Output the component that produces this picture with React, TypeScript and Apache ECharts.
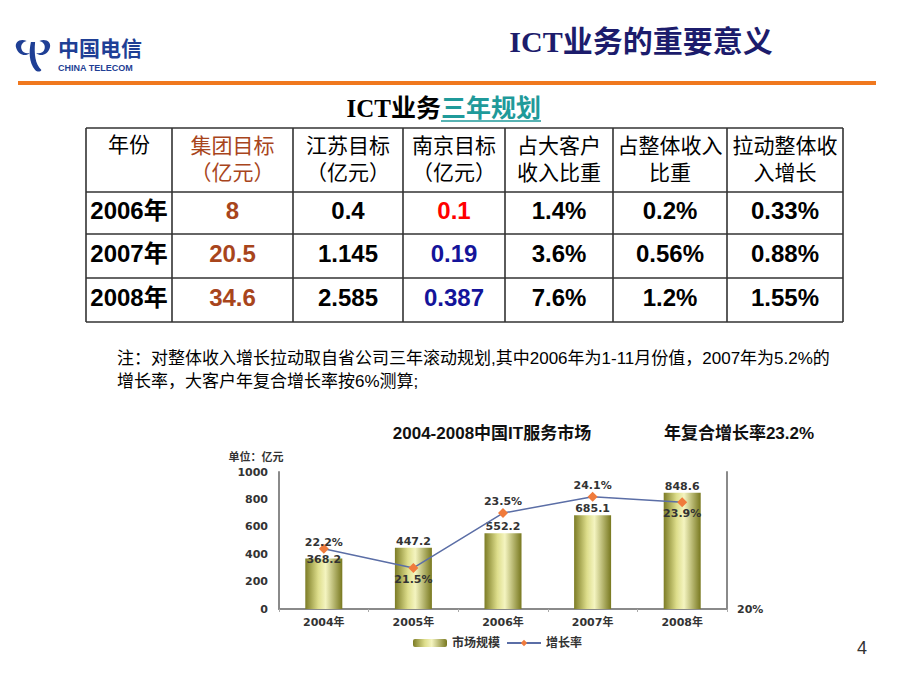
import React, { useEffect, useRef } from 'react';
import * as echarts from 'echarts';

// ---- table data ----
const tableHeaders: string[][] = [
  ['年份'],
  ['集团目标', '（亿元）'],
  ['江苏目标', '（亿元）'],
  ['南京目标', '（亿元）'],
  ['占大客户', '收入比重'],
  ['占整体收入', '比重'],
  ['拉动整体收', '入增长'],
];
const tableYears = ['2006年', '2007年', '2008年'];
const groupTarget = ['8', '20.5', '34.6'];
const jiangsuTarget = ['0.4', '1.145', '2.585'];
const nanjingTarget = ['0.1', '0.19', '0.387'];
const bigCustomerShare = ['1.4%', '3.6%', '7.6%'];
const totalRevenueShare = ['0.2%', '0.56%', '1.2%'];
const growthContribution = ['0.33%', '0.88%', '1.55%'];

// ---- chart data ----
const chartYears = ['2004年', '2005年', '2006年', '2007年', '2008年'];
const marketSize = [368.2, 447.2, 552.2, 685.1, 848.6];
const growthRate = [22.2, 21.5, 23.5, 24.1, 23.9];

const noteLines = [
  '注：对整体收入增长拉动取自省公司三年滚动规划,其中2006年为1-11月份值，2007年为5.2%的',
  '增长率，大客户年复合增长率按6%测算;',
];

const LOGO_D =
  'M4 14 C2 8 8 4 14 7 C10 8 8 11 9 15 C10 19 14 20 17 19 C13 23 6 21 4 14 Z ' +
  'M36 14 C38 8 32 4 26 7 C30 8 32 11 31 15 C30 19 26 20 23 19 C27 23 34 21 36 14 Z ' +
  'M18 8 C16 18 16 28 22 36 C24 38 27 38 28 36 C22 30 21 20 22 8 Z';

let logoRegistered = false;
function ensureLogo() {
  if (logoRegistered) return;
  echarts.graphic.registerShape('logo', echarts.graphic.extendPath(LOGO_D, {}) as any);
  logoRegistered = true;
}

const SERIF = '"Liberation Serif", "Noto Sans CJK SC", serif';
const SANS = '"Liberation Sans", "Noto Sans CJK SC", sans-serif';
const CHART_FONT = '"DejaVu Sans", "Noto Sans CJK SC", sans-serif';

function txt(text: string, x: number, y: number, o: any = {}) {
  const align = o.align || 'center';
  const valign = o.valign || 'middle';
  return {
    type: 'text',
    x,
    y,
    z: 10,
    style: {
      text,
      fill: o.fill || '#000',
      fontSize: o.size || 14,
      fontWeight: o.weight || 'normal',
      fontFamily: o.family || SANS,
      align,
      verticalAlign: valign,
      textAlign: align,
      textVerticalAlign: valign,
    },
  };
}

function buildGraphic() {
  const els: any[] = [];
  // logo
  els.push({
    type: 'logo',
    x: 12,
    y: 34,
    scaleX: 1.05,
    scaleY: 1.0,
    style: { fill: '#1f3f95' },
  });
  els.push(txt('中国电信', 58, 48, { align: 'left', size: 21, weight: 'bold', fill: '#1f3f95' }));
  els.push(txt('CHINA TELECOM', 58, 68, { align: 'left', size: 9, weight: 'bold', fill: '#1f3f95' }));
  // title
  els.push(txt('ICT业务的重要意义', 641, 41, { size: 30, weight: 'bold', fill: '#1c1c6c', family: SERIF }));
  // orange rule
  els.push({ type: 'rect', shape: { x: 18, y: 81, width: 858, height: 4 }, style: { fill: '#f0781e' } });

  // table title
  els.push(txt('ICT业务', 441, 108, { align: 'right', size: 25, weight: 'bold', fill: '#000', family: SERIF }));
  els.push(txt('三年规划', 441, 108, { align: 'left', size: 25, weight: 'bold', fill: '#1f9a9a', family: SERIF }));
  els.push({ type: 'line', shape: { x1: 441, y1: 121, x2: 541, y2: 121 }, style: { stroke: '#1f9a9a', lineWidth: 1.5 } });

  // table grid
  const colEdges = [86, 172, 293, 403, 505, 613, 727, 843];
  const rowEdges = [128, 192, 234, 278, 322];
  colEdges.forEach((x) =>
    els.push({ type: 'line', shape: { x1: x, y1: rowEdges[0], x2: x, y2: rowEdges[rowEdges.length - 1] }, style: { stroke: '#333', lineWidth: 1.6 } })
  );
  rowEdges.forEach((y) =>
    els.push({ type: 'line', shape: { x1: colEdges[0], y1: y, x2: colEdges[colEdges.length - 1], y2: y }, style: { stroke: '#333', lineWidth: 1.6 } })
  );
  const colCenter = (i: number) => (colEdges[i] + colEdges[i + 1]) / 2;

  // headers
  tableHeaders.forEach((lines, c) => {
    const fill = c === 1 ? '#a8451c' : '#000';
    lines.forEach((line, li) => {
      const y = lines.length === 1 ? 144 : li === 0 ? 145 : 172;
      els.push(txt(line, colCenter(c), y, { size: 21, fill }));
    });
  });

  // rows
  const rowY = [210, 253, 297];
  const columns = [tableYears, groupTarget, jiangsuTarget, nanjingTarget, bigCustomerShare, totalRevenueShare, growthContribution];
  columns.forEach((col, c) => {
    col.forEach((v, r) => {
      let fill = '#000';
      if (c === 1) fill = '#a8451c';
      if (c === 3) fill = r === 0 ? '#ff0000' : '#14149a';
      els.push(txt(v, colCenter(c), rowY[r], { size: 24, weight: 'bold', fill }));
    });
  });

  // note
  els.push(txt(noteLines[0], 117, 358, { align: 'left', size: 17, fill: '#000' }));
  els.push(txt(noteLines[1], 117, 381, { align: 'left', size: 17, fill: '#000' }));

  // chart titles
  els.push(txt('2004-2008中国IT服务市场', 492, 433, { size: 17, weight: 'bold', fill: '#111' }));
  els.push(txt('年复合增长率23.2%', 739, 433, { size: 17, weight: 'bold', fill: '#111' }));
  els.push(txt('单位：亿元', 256, 457, { size: 11, weight: 'bold', fill: '#333', family: CHART_FONT }));

  // page number
  els.push(txt('4', 862, 648, { size: 18, fill: '#333' }));
  return els;
}

export default function App() {
  const ref = useRef<HTMLDivElement>(null);
  useEffect(() => {
    if (!ref.current) return;
    ensureLogo();
    const chart = echarts.init(ref.current, undefined, { renderer: 'svg' });
    const barGradient = new echarts.graphic.LinearGradient(0, 0, 1, 0, [
      { offset: 0, color: '#7c7c26' },
      { offset: 0.35, color: '#dede8c' },
      { offset: 0.55, color: '#f4f4c0' },
      { offset: 1, color: '#78781f' },
    ]);
    const labelFont = { fontSize: 11, fontWeight: 'bold' as const, color: '#333', fontFamily: CHART_FONT };
    const lineLabelPos = ['top', 'bottom', 'top', 'top', 'bottom'];
    const option: any = {
      animation: false,
      backgroundColor: '#ffffff',
      grid: { left: 279, right: 193, top: 472, bottom: 81, containLabel: false },
      legend: {
        left: 408,
        top: 632,
        itemWidth: 34,
        itemHeight: 8,
        itemGap: 6,
        textStyle: { ...labelFont, fontSize: 12 },
        data: ['市场规模', '增长率'],
      },
      xAxis: {
        type: 'category',
        data: chartYears,
        axisLine: { lineStyle: { color: '#8a8a8a', width: 2 } },
        axisTick: { show: true, length: 3, lineStyle: { color: '#aaa' } },
        axisLabel: { ...labelFont, margin: 8 },
      },
      yAxis: [
        {
          type: 'value',
          min: 0,
          max: 1000,
          interval: 200,
          axisLine: { show: true, lineStyle: { color: '#8a8a8a', width: 2 } },
          axisTick: { show: false },
          splitLine: { show: false },
          axisLabel: { ...labelFont, margin: 11, formatter: (v: number) => String(v) },
        },
        {
          type: 'value',
          min: 20,
          max: 25,
          interval: 5,
          position: 'right',
          axisLine: { show: true, lineStyle: { color: '#8a8a8a', width: 2 } },
          axisTick: { show: false },
          splitLine: { show: false },
          axisLabel: { ...labelFont, margin: 10, formatter: (v: number) => (v === 20 ? '20%' : '') },
        },
      ],
      series: [
        {
          name: '市场规模',
          type: 'bar',
          barWidth: 37,
          itemStyle: { color: barGradient },
          data: marketSize.map((v, i) =>
            i === 0 ? { value: v, label: { offset: [0, 7] } } : { value: v }
          ),
          label: { show: true, position: 'top', distance: 1, ...labelFont },
        },
        {
          name: '增长率',
          type: 'line',
          yAxisIndex: 1,
          symbol: 'diamond',
          symbolSize: 10,
          lineStyle: { color: '#5b6ea6', width: 1.5 },
          itemStyle: { color: '#f07b3c' },
          data: growthRate.map((v, i) => ({
            value: v,
            label: { position: lineLabelPos[i], offset: i === 0 ? [0, 5] : [0, 0] },
          })),
          label: { show: true, distance: 1, formatter: '{c}%', ...labelFont },
          z: 5,
        },
      ],
      graphic: buildGraphic(),
    };
    chart.setOption(option);
    return () => chart.dispose();
  }, []);
  return (
    <div
      ref={ref}
      style={{ position: 'absolute', left: 0, top: 0, width: 920, height: 690, background: '#fff' }}
    />
  );
}
